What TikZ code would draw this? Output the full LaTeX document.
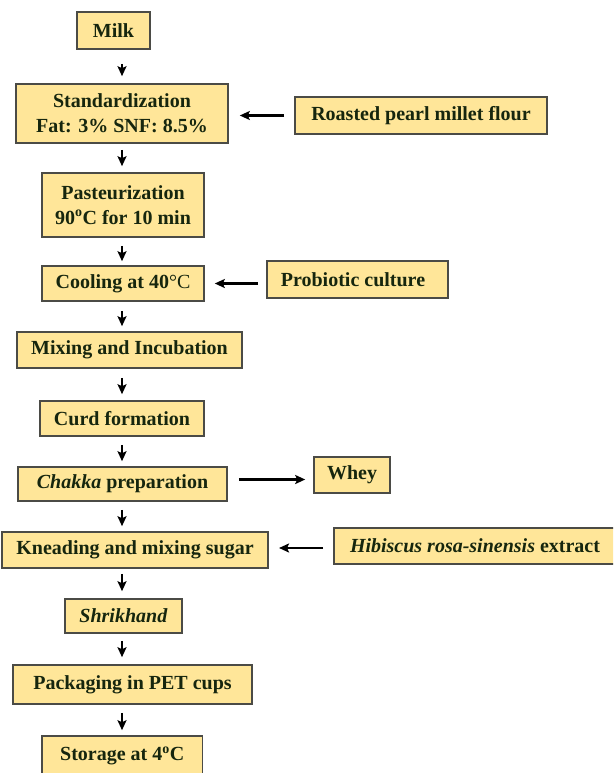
\documentclass[tikz,border=0pt]{standalone}
\usepackage{fontspec}
\setmainfont{Liberation Serif}
\usetikzlibrary{arrows.meta,calc}
\definecolor{boxfill}{RGB}{255,230,153}
\definecolor{boxline}{RGB}{75,75,70}
\definecolor{txt}{RGB}{22,38,14}
\tikzset{
  box/.style={draw=boxline, line width=1.6pt, fill=boxfill, inner sep=0pt, align=center,
    text=txt, font=\fontsize{20}{25}\selectfont\bfseries},
  flow/.style={-{Stealth[length=10pt,width=9pt,inset=2pt]}, line width=2.2pt, black},
}
\begin{document}
\begin{tikzpicture}[x=1pt,y=-1pt]
\useasboundingbox (0,0) rectangle (613,773);
\clip (0,0) rectangle (613,773);
\node[box, minimum width=73pt, minimum height=37pt] (milk) at (113.5,30.5) {Milk};
\node[box, minimum width=212pt, minimum height=59pt] (std) at (122,113.5) {Standardization\\Fat: 3\% SNF: 8.5\%};
\node[box, minimum width=252pt, minimum height=37pt] (roast) at (421,115.5) {Roasted pearl millet flour};
\node[box, minimum width=162pt, minimum height=64pt] (past) at (123,205) {Pasteurization\\90\textsuperscript{o}C for 10 min};
\node[box, minimum width=162pt, minimum height=35pt] (cool) at (123,283.5) {Cooling at 40{\mdseries °C}};
\node[box, minimum width=181pt, minimum height=37pt] (prob) at (357.5,279.5) {Probiotic culture\hspace*{9pt}};
\node[box, minimum width=225pt, minimum height=36pt] (mix) at (129.5,350) {Mixing and Incubation};
\node[box, minimum width=164pt, minimum height=35pt] (curd) at (122,418.5) {Curd formation};
\node[box, minimum width=209pt, minimum height=34pt] (chakka) at (122.5,484) {\textit{Chakka} preparation};
\node[box, minimum width=76pt, minimum height=36pt] (whey) at (352,475) {Whey};
\node[box, minimum width=266.5pt, minimum height=36pt] (knead) at (135,550) {Kneading and mixing sugar};
\node[box, minimum width=282pt, minimum height=36pt] (hib) at (475,546) {\textit{Hibiscus rosa-sinensis} extract};
\node[box, minimum width=117pt, minimum height=34pt] (shrik) at (123.5,616) {\textit{Shrikhand}};
\node[box, minimum width=239pt, minimum height=39pt] (pack) at (132.5,684.5) {Packaging in PET cups};
\node[box, minimum width=160.5pt, minimum height=40pt] (stor) at (122.25,756) {Storage at 4\textsuperscript{o}C};
\coordinate (ax) at (122,0);
\draw[flow, shorten <=14pt, shorten >=7pt] (milk.south -| ax) -- (std.north -| ax);
\draw[flow, shorten <=6pt, shorten >=6pt] (std.south -| ax) -- (past.north -| ax);
\draw[flow, shorten <=8pt, shorten >=4pt] (past.south -| ax) -- (cool.north -| ax);
\draw[flow, shorten <=9pt, shorten >=5pt] (cool.south -| ax) -- (mix.north -| ax);
\draw[flow, shorten <=9pt, shorten >=6pt] (mix.south -| ax) -- (curd.north -| ax);
\draw[flow, shorten <=8pt, shorten >=5pt] (curd.south -| ax) -- (chakka.north -| ax);
\draw[flow, shorten <=8pt, shorten >=5pt] (chakka.south -| ax) -- (knead.north -| ax);
\draw[flow, shorten <=5pt, shorten >=7pt] (knead.south -| ax) -- (shrik.north -| ax);
\draw[flow, shorten <=7pt, shorten >=7pt] (shrik.south -| ax) -- (pack.north -| ax);
\draw[flow, shorten <=8pt, shorten >=5pt] (pack.south -| ax) -- (stor.north -| ax);
\draw[flow, shorten <=10pt, shorten >=11pt] (roast.west) -- (roast.west -| std.east);
\draw[flow, shorten <=8pt, shorten >=10pt] (prob.west |- cool.east) -- (cool.east);
\coordinate (m1) at ($(chakka.east)!0.5!(whey.west)$);
\draw[flow, shorten <=11pt, shorten >=8pt] (chakka.east |- m1) -- (whey.west |- m1);
\coordinate (m2) at ($(knead.east)!0.5!(hib.west)$);
\draw[flow, shorten <=10pt, shorten >=10pt] (hib.west |- m2) -- (knead.east |- m2);
\end{tikzpicture}
\end{document}
